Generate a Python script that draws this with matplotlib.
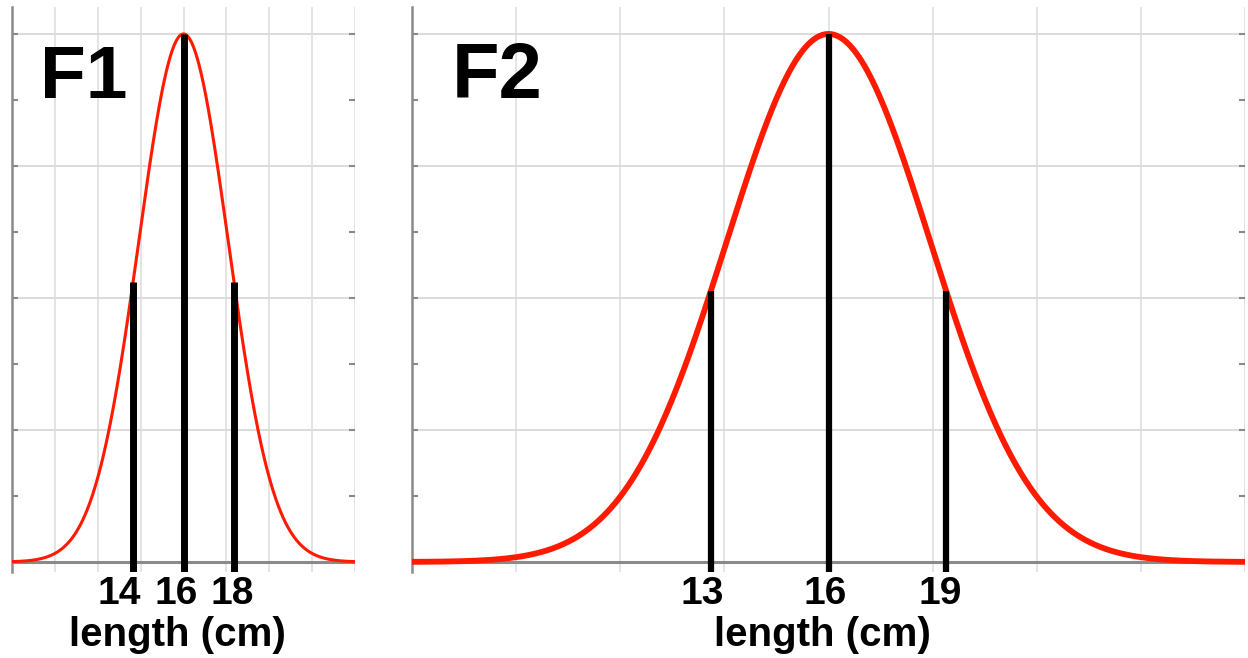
import numpy as np
import matplotlib.pyplot as plt
from matplotlib.transforms import ScaledTranslation

# two normal curves (peak scaled to 1), same mean, different spread
panel_names = ['F1', 'F2']
mean_cm = [16, 16]
sd_cm = [1.775, 2.6]
tick_cm = [[14, 16, 18], [13, 16, 19]]
xlims = [(9.2, 22.8), (5.37, 26.63)]
y_major = [0, 0.25, 0.5, 0.75, 1.0]
y_minor = [0.125, 0.375, 0.625, 0.875]

RED = '#ff1a00'
GRID = '#dcdcdc'
AXIS = '#8a8a8a'
FONT = 'Liberation Sans'

W, H = 1248, 658
fig = plt.figure(figsize=(W / 100, H / 100), dpi=100)

# axes boxes in pixels: left, top, right, bottom
boxes = [(12, 7, 355, 572), (412, 7, 1245, 572)]
curve_lw = [2.2, 4.2]
bar_lw = [5.0, 4.5]
title_pos = [(0.082, 0.935), (0.048, 0.940)]
title_size = [54, 56]
label_shift_px = [[-14, -7, -2], [-9, -3, -6]]  # tick labels sit a bit left of the bars

for i, name in enumerate(panel_names):
    l, t, r, b = boxes[i]
    ax = fig.add_axes([l / W, (H - b) / H, (r - l) / W, (b - t) / H])
    x0, x1 = xlims[i]
    ax.set_xlim(x0, x1)
    ax.set_ylim(-0.019, 1.051)

    # grid: 8 equal vertical divisions, quarter-height horizontal lines
    for gx in np.linspace(x0, x1, 9):
        ax.axvline(gx, color=GRID, lw=1.1, zorder=0)
    for gy in y_major[1:]:
        ax.axhline(gy, color=GRID, lw=1.4, zorder=0)
    ax.axhline(0, color=AXIS, lw=2.2, zorder=1)

    for s in ['top', 'right', 'bottom']:
        ax.spines[s].set_visible(False)
    ax.spines['left'].set_color(AXIS)
    ax.spines['left'].set_linewidth(1.8)

    ax.set_yticks(y_major)
    ax.set_yticks(y_minor, minor=True)
    ax.tick_params(axis='y', which='both', direction='in', left=True, right=True,
                   labelleft=False, length=4, width=1.5, color=AXIS)

    x = np.linspace(x0, x1, 600)
    y = np.exp(-0.5 * ((x - mean_cm[i]) / sd_cm[i]) ** 2)
    ax.plot(x, y, color=RED, lw=curve_lw[i], zorder=3, solid_capstyle='butt')

    ticks = np.array(tick_cm[i])
    heights = np.exp(-0.5 * ((ticks - mean_cm[i]) / sd_cm[i]) ** 2)
    ax.vlines(ticks, -0.019, heights, color='black', lw=bar_lw[i], zorder=4)

    ax.set_xticks(ticks)
    ax.set_xticklabels([str(v) for v in ticks], fontsize=28, fontweight='bold',
                       family=FONT)
    ax.tick_params(axis='x', length=0, pad=3)
    for lab, dx in zip(ax.get_xticklabels(), label_shift_px[i]):
        lab.set_transform(lab.get_transform() +
                          ScaledTranslation(dx / 100, 0, fig.dpi_scale_trans))

    ax.set_xlabel('length (cm)', fontsize=29, fontweight='bold', family=FONT)
    ax.xaxis.set_label_coords(0.5 - 6 / (r - l), -0.077)

    ax.text(title_pos[i][0], title_pos[i][1], name, transform=ax.transAxes,
            fontsize=title_size[i], fontweight='bold', family=FONT,
            va='top', ha='left')

fig.savefig('out.png', dpi=100)
